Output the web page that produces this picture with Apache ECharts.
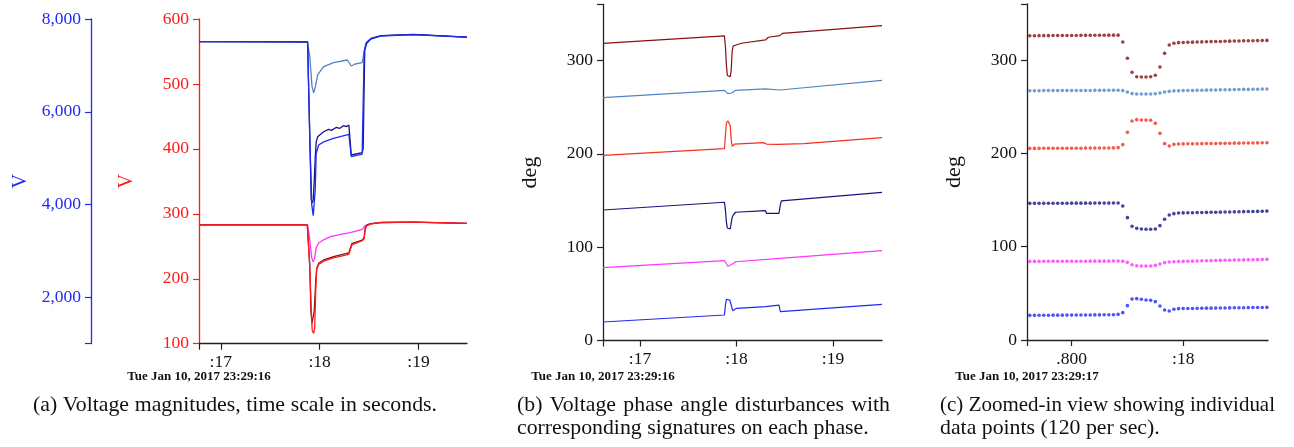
<!DOCTYPE html>
<html>
<head>
<meta charset="utf-8">
<script src="https://cdn.jsdelivr.net/npm/echarts@6/dist/echarts.min.js"></script>
<style>
  html, body { margin: 0; padding: 0; background: #fff; }
  #chart { width: 1294px; height: 447px; }
</style>
</head>
<body>
<div id="chart"></div>
<script>
// ---- data ----
// (a) voltage magnitudes, [second, V]
var magSteel = [[16.78,7511],[17.875,7511],[17.9,7200],[17.923,6541],[17.94,6411],[17.957,6541],[17.98,6793],[18.04,6972],[18.14,7058],[18.28,7116],[18.30,7144],[18.32,6987],[18.36,7030],[18.43,7058],[18.455,7332],[18.475,7461],[18.515,7562],[18.615,7633],[18.95,7662],[19.49,7605]];
var magNavy = [[16.78,7511],[17.878,7500],[17.905,5000],[17.915,4100],[17.925,4040],[17.935,4100],[17.945,4500],[17.955,5000],[17.965,5350],[17.98,5463],[18.04,5570],[18.09,5620],[18.12,5600],[18.17,5665],[18.2,5640],[18.24,5700],[18.27,5680],[18.295,5714],[18.31,5740],[18.32,5068],[18.43,5118],[18.44,5200],[18.456,7332],[18.475,7500],[18.52,7580],[18.62,7640],[18.95,7670],[19.49,7610]];
var magBlue = [[16.78,7511],[17.878,7511],[17.9,5500],[17.92,4000],[17.935,3760],[17.945,3780],[17.955,4300],[17.965,5100],[17.99,5283],[18.04,5350],[18.14,5428],[18.295,5514],[18.31,5530],[18.32,5031],[18.43,5089],[18.44,5100],[18.45,7300],[18.47,7480],[18.52,7575],[18.62,7635],[18.95,7665],[19.49,7608]];
var magMagenta = [[16.78,283],[17.878,283],[17.9,260],[17.92,232],[17.935,226],[17.95,232],[17.965,248],[17.99,255],[18.04,260],[18.11,264.8],[18.2,268],[18.31,271],[18.43,276.1],[18.455,281.2],[18.5,284.3],[18.62,286.8],[18.95,287.2],[19.49,285.4]];
var magDark = [[16.78,283],[17.875,283],[17.9,220],[17.912,150],[17.922,131],[17.932,130],[17.945,150],[17.96,195],[17.97,216],[17.99,224],[18.04,229],[18.14,234],[18.295,239.7],[18.31,241],[18.325,254],[18.43,259.6],[18.45,263],[18.46,277.6],[18.475,282.7],[18.52,285],[18.62,286.6],[18.95,287.2],[19.49,285.4]];
var magRed = [[16.78,283],[17.875,283],[17.9,220],[17.915,150],[17.925,120],[17.94,116],[17.95,125],[17.96,180],[17.97,214],[17.99,222],[18.04,227],[18.14,232],[18.295,237.5],[18.31,240],[18.325,252],[18.43,258.5],[18.45,262],[18.46,276],[18.475,281.5],[18.52,284.5],[18.62,286.5],[18.95,287.2],[19.49,285.4]];

// (b) phase angles, [second, deg]
var angDarkRed = [[16.616,318.4],[17.875,326.3],[17.885,315],[17.895,295],[17.905,284],[17.92,282],[17.935,282.5],[17.945,290],[17.955,310],[17.965,315.5],[17.98,317],[18.05,318.5],[18.30,322],[18.33,324.9],[18.45,326.6],[18.475,329],[19.508,337.3]];
var angSteel = [[16.616,260.2],[17.875,268],[17.89,267],[17.91,264.5],[17.93,264.1],[17.95,265.2],[17.99,268],[18.30,269.5],[18.31,267.7],[18.45,268.4],[18.47,270.5],[19.508,278.8]];
var angRed = [[16.616,198.4],[17.875,205.5],[17.885,220],[17.895,233],[17.91,235.5],[17.925,235],[17.935,230],[17.945,215],[17.955,208],[17.965,209.5],[17.98,210.5],[18.28,212],[18.31,210.5],[18.43,210.2],[18.45,209.1],[18.7,211],[19.508,217.3]];
var angNavy = [[16.616,139.8],[17.875,148.1],[17.885,140],[17.895,127],[17.905,120.5],[17.92,119],[17.935,119.5],[17.945,126],[17.955,132],[17.97,135],[17.99,137.4],[18.30,139.1],[18.31,136.3],[18.44,136.3],[18.455,146],[18.465,149.5],[19.508,158.8]];
var angMagenta = [[16.616,78],[17.875,85.5],[17.89,83],[17.91,79.5],[17.93,79.1],[17.95,81.5],[17.99,84.4],[18.45,88],[19.508,96.2]];
var angBlue = [[16.616,19.8],[17.875,27.3],[17.885,38],[17.895,44.1],[17.91,44.5],[17.93,43.4],[17.945,38],[17.96,31.9],[17.98,33.5],[18.0,34.5],[18.30,36.2],[18.31,38],[18.44,38],[18.455,31],[18.47,30.2],[19.508,38.8]];

// (c) individual samples, 120 per second, first sample time
var sampleStart = 17.725;
var sampleRate = 120;
var dotDarkRed = [326.0,326.0,326.1,326.1,326.1,326.2,326.2,326.2,326.3,326.3,326.3,326.4,326.4,326.4,326.5,326.5,326.5,326.6,326.6,326.6,
  319.3,301.8,286.8,282.1,281.8,281.8,282.1,283.6,292.5,307.1,316.1,317.9,
  318.6,318.8,319.0,319.1,319.3,319.4,319.5,319.7,319.8,319.9,320.1,320.2,320.3,320.4,320.5,320.6,320.7,320.8,320.9,321.0];
var dotSteel = [267.1,267.1,267.1,267.2,267.2,267.2,267.2,267.3,267.3,267.3,267.3,267.4,267.4,267.4,267.5,267.5,267.5,267.6,267.6,267.6,
  267.2,265.7,264.0,263.6,263.5,263.5,263.6,263.8,264.6,265.7,266.4,266.9,
  267.1,267.2,267.3,267.4,267.5,267.6,267.7,267.8,267.9,268.0,268.1,268.2,268.3,268.4,268.5,268.5,268.6,268.7,268.8,268.9];
var dotRed = [205.3,205.3,205.3,205.4,205.4,205.4,205.4,205.4,205.5,205.5,205.5,205.5,205.6,205.6,205.6,205.6,205.7,205.7,205.8,206.1,
  209.3,222.5,234.6,236.1,235.7,235.6,235.4,232.1,221.4,210.4,207.9,209.6,
  210.0,210.1,210.2,210.3,210.3,210.4,210.5,210.5,210.6,210.7,210.7,210.8,210.9,210.9,211.0,211.1,211.1,211.2,211.3,211.4];
var dotNavy = [146.4,146.4,146.4,146.4,146.5,146.5,146.5,146.5,146.5,146.6,146.6,146.6,146.6,146.6,146.7,146.7,146.7,146.7,146.8,146.8,
  143.6,131.1,121.8,119.6,118.9,118.6,118.6,118.9,122.5,129.3,133.9,135.4,
  136.1,136.2,136.3,136.4,136.5,136.6,136.7,136.8,136.9,137.0,137.1,137.2,137.3,137.4,137.5,137.6,137.7,137.8,137.9,138.1];
var dotMagenta = [84.2,84.2,84.2,84.3,84.3,84.3,84.3,84.3,84.4,84.4,84.4,84.4,84.4,84.5,84.5,84.5,84.5,84.5,84.6,84.6,84.4,
  83.2,80.7,79.6,79.3,79.3,79.3,80.0,81.4,82.9,83.6,83.9,
  84.1,84.2,84.4,84.5,84.6,84.8,84.9,85.0,85.1,85.3,85.4,85.5,85.6,85.7,85.8,85.9,86.0,86.1,86.3,86.4];
var dotBlue = [26.4,26.4,26.5,26.5,26.5,26.6,26.6,26.6,26.7,26.7,26.7,26.8,26.8,26.8,26.9,26.9,27.0,27.0,27.1,27.5,
  29.3,36.8,43.9,44.3,43.6,42.9,42.5,41.1,36.4,32.1,31.1,32.9,
  33.6,33.7,33.8,33.8,33.9,34.0,34.1,34.1,34.2,34.3,34.3,34.4,34.5,34.5,34.6,34.7,34.8,34.8,34.9,35.0];

// tick labels
var secTicksA = [17, 18, 19];
var secTicksB = [17, 18, 19];
var secTicksC = [17.8, 18];
var redTicks = [100, 200, 300, 400, 500, 600];
var blueTicks = [2000, 4000, 6000, 8000];
var degTicks = [0, 100, 200, 300];

var SERIF = '"Liberation Serif", "DejaVu Serif", serif';
var CAP = 21.8;
var C = {
  red: '#ff1a1a', blue: '#1f2bf2', steel: '#4f86c0', navy: '#15157f',
  magenta: '#ff33ff', dark: '#7a1a14', darkred: '#861010', red2: '#f2321f'
};

function samples(vals) {
  return vals.map(function (v, i) { return [sampleStart + i / sampleRate, v]; });
}
function secLabel(v) { return ':' + Math.round(v); }
function commas(v) { return String(v).replace(/\B(?=(\d{3})+(?!\d))/g, ','); }

function xAxisOf(grid, min, max, labels, fmt) {
  return {
    type: 'value', gridIndex: grid, min: min, max: max,
    splitLine: { show: false },
    axisLine: { onZero: false, lineStyle: { color: '#222', width: 1.3 } },
    axisTick: { length: 6, lineStyle: { color: '#222', width: 1.2 }, customValues: [min].concat(labels) },
    axisLabel: { customValues: labels, formatter: fmt, color: '#111', fontFamily: SERIF, fontSize: 17.5, margin: 10 }
  };
}
function degAxis(grid) {
  return {
    type: 'value', gridIndex: grid, min: 0, max: 360,
    name: 'deg', nameLocation: 'middle', nameGap: 62,
    nameTextStyle: { color: '#111', fontFamily: SERIF, fontSize: 22 },
    splitLine: { show: false },
    axisLine: { show: true, onZero: false, lineStyle: { color: '#222', width: 1.3 } },
    axisTick: { show: true, length: 6, lineStyle: { color: '#222', width: 1.2 }, customValues: degTicks.concat([360]) },
    axisLabel: { customValues: degTicks, color: '#111', fontFamily: SERIF, fontSize: 17.5, margin: 10 }
  };
}
function lineS(xi, yi, data, color, w) {
  return { type: 'line', xAxisIndex: xi, yAxisIndex: yi, data: data, showSymbol: false, symbol: 'none',
    lineStyle: { color: color, width: w || 1.3 }, itemStyle: { color: color }, animation: false, silent: true };
}
function dotS(vals, color) {
  return { type: 'scatter', xAxisIndex: 2, yAxisIndex: 3, data: samples(vals), symbolSize: 3.6,
    itemStyle: { color: color }, animation: false, silent: true };
}
function txt(x, y, s, size, align, weight, sx) {
  return { type: 'text', x: x, y: y, scaleX: sx || 1, silent: true,
    style: { text: s, fill: '#111', fontFamily: SERIF, fontSize: size, fontWeight: weight || 'normal',
      align: align, verticalAlign: 'middle' } };
}

// caption lines set flush to both edges, like the justified paper caption
var measureCtx = document.createElement('canvas').getContext('2d');
function justified(s, x0, x1, y, size) {
  measureCtx.font = size + 'px ' + SERIF;
  var words = s.split(' ');
  var space = measureCtx.measureText(' ').width;
  var widths = words.map(function (w) { return measureCtx.measureText(w).width; });
  var total = widths.reduce(function (a, b) { return a + b; }, 0);
  // squeeze the glyphs a little if the line would not fit with normal spaces
  var sx = Math.min(1, (x1 - x0 - (words.length - 1) * space) / total);
  var gap = (x1 - x0 - total * sx) / (words.length - 1);
  var out = [], x = x0;
  words.forEach(function (w, i) {
    out.push(txt(x, y, w, size, 'left', 'normal', sx));
    x += widths[i] * sx + gap;
  });
  return out;
}

var graphics = [
  txt(199, 377, 'Tue Jan 10, 2017 23:29:16', 13, 'center', 'bold'),
  txt(603, 377, 'Tue Jan 10, 2017 23:29:16', 13, 'center', 'bold'),
  txt(1027, 377, 'Tue Jan 10, 2017 23:29:17', 13, 'center', 'bold'),
  txt(517, 428, 'corresponding signatures on each phase.', CAP, 'left'),
  txt(940, 428, 'data points (120 per sec).', CAP, 'left')
].concat(
  justified('(a) Voltage magnitudes, time scale in seconds.', 33, 437, 405, CAP),
  justified('(b) Voltage phase angle disturbances with', 517, 890, 405, CAP),
  justified('(c) Zoomed-in view showing individual', 940, 1275, 405, CAP)
);

var chart = echarts.init(document.getElementById('chart'), null, { renderer: 'canvas' });
chart.setOption({
  backgroundColor: '#fff',
  animation: false,
  grid: [
    { left: 199, top: 19, width: 268, height: 324.7 },
    { left: 603, top: 4.5, width: 279, height: 336 },
    { left: 1027, top: 4, width: 241, height: 336 }
  ],
  xAxis: [
    xAxisOf(0, 16.78, 19.49, secTicksA, secLabel),
    xAxisOf(1, 16.616, 19.508, secTicksB, secLabel),
    xAxisOf(2, 17.72, 18.152, secTicksC, function (v) { return v < 17.9 ? '.800' : ':18'; })
  ],
  yAxis: [
    { type: 'value', gridIndex: 0, min: 100, max: 600, interval: 100, position: 'left',
      name: 'V', nameLocation: 'middle', nameGap: 62,
      nameTextStyle: { color: C.red, fontFamily: SERIF, fontSize: 20 },
      splitLine: { show: false },
      axisLine: { show: true, onZero: false, lineStyle: { color: C.red, width: 1.3 } },
      axisTick: { show: true, length: 6, lineStyle: { color: C.red, width: 1.2 }, customValues: redTicks },
      axisLabel: { customValues: redTicks, color: C.red, fontFamily: SERIF, fontSize: 17.5, margin: 10 } },
    { type: 'value', gridIndex: 0, min: 1000, max: 8000, position: 'left', offset: 108,
      name: 'V', nameLocation: 'middle', nameGap: 60,
      nameTextStyle: { color: C.blue, fontFamily: SERIF, fontSize: 20 },
      splitLine: { show: false },
      axisLine: { show: true, onZero: false, lineStyle: { color: C.blue, width: 1.3 } },
      axisTick: { show: true, length: 6, lineStyle: { color: C.blue, width: 1.2 }, customValues: [1000].concat(blueTicks) },
      axisLabel: { customValues: blueTicks, formatter: commas, color: C.blue, fontFamily: SERIF, fontSize: 17.5, margin: 10 } },
    degAxis(1),
    degAxis(2)
  ],
  series: [
    lineS(0, 1, magSteel, C.steel),
    lineS(0, 1, magNavy, C.navy),
    lineS(0, 1, magBlue, C.blue),
    lineS(0, 0, magMagenta, C.magenta),
    lineS(0, 0, magDark, C.dark),
    lineS(0, 0, magRed, C.red),

    lineS(1, 2, angDarkRed, C.darkred, 1.2),
    lineS(1, 2, angSteel, C.steel, 1.2),
    lineS(1, 2, angRed, C.red2, 1.2),
    lineS(1, 2, angNavy, C.navy, 1.2),
    lineS(1, 2, angMagenta, C.magenta, 1.2),
    lineS(1, 2, angBlue, C.blue, 1.2),

    dotS(dotDarkRed, C.darkred),
    dotS(dotSteel, C.steel),
    dotS(dotRed, C.red2),
    dotS(dotNavy, C.navy),
    dotS(dotMagenta, C.magenta),
    dotS(dotBlue, C.blue)
  ],
  graphic: graphics
});
</script>
</body>
</html>
